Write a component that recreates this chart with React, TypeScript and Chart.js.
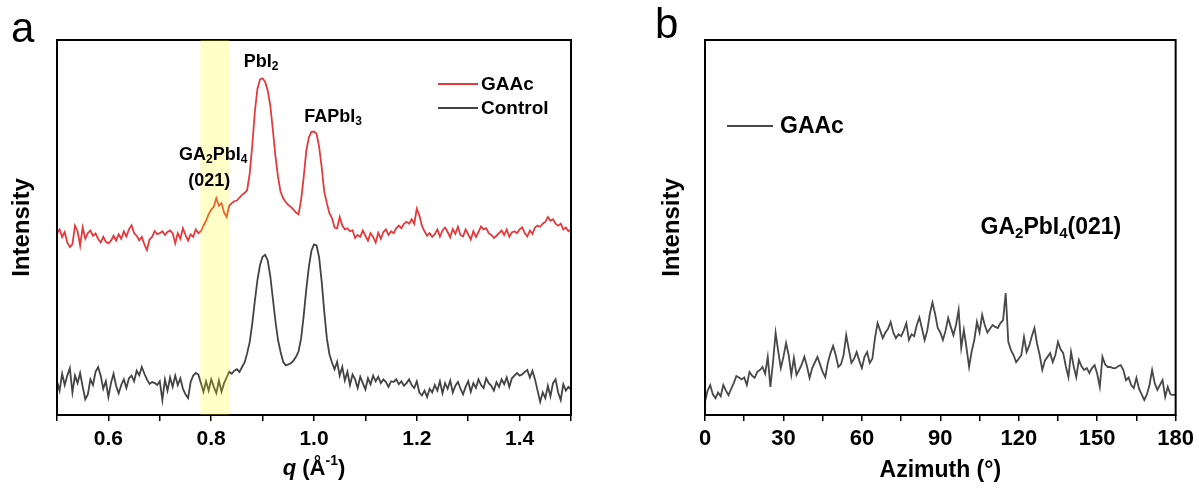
import React, { useEffect, useRef } from "react";
import { Chart, registerables } from "chart.js";

Chart.register(...registerables);

const FONT = '"Liberation Sans", Arial, Helvetica, sans-serif';

// ---------- Panel a: q scan (q from 0.5 to 1.5, step 0.005) ----------
const Q_START = 0.5;
const Q_STEP = 0.005;

const gaacA = [
  48.5, 49.5, 47.5, 48.8, 46.0, 44.8, 45.5, 50.5, 49.0, 45.2,
  50.0, 47.0, 48.5, 49.2, 47.8, 48.4, 47.0, 46.0, 47.5, 46.2,
  45.8, 46.5, 47.8, 46.5, 48.2, 47.0, 49.0, 47.6, 49.5, 50.6,
  48.5, 47.8, 46.6, 47.5, 45.5, 44.0, 46.8, 47.5, 49.0, 48.2,
  48.5, 49.0, 48.0, 48.8, 49.2, 48.5, 45.8, 48.5, 47.0, 49.8,
  48.0, 46.5, 48.2, 47.5, 49.5, 48.5, 49.0, 50.5, 51.8, 53.5,
  54.8, 55.5, 57.8, 55.8, 56.5, 54.0, 52.8, 55.8, 56.5, 57.0,
  57.2, 58.0, 58.7, 59.2, 60.0, 64.5, 72.0, 81.0, 87.0, 89.5,
  89.8, 88.8, 86.5, 82.5, 76.0, 69.0, 63.5, 59.5, 57.8, 56.8,
  56.0, 55.5, 54.8, 54.0, 53.5, 57.5, 63.5, 70.5, 74.0, 75.5,
  75.6, 75.0, 71.5, 66.0, 59.5, 56.5, 53.8, 52.5, 50.0, 49.8,
  52.8, 50.5, 49.5, 49.8, 49.0, 49.3, 47.2, 48.0, 47.5, 49.2,
  47.8, 46.5, 48.5, 47.5, 46.0, 48.6, 47.0, 48.8, 49.5, 48.0,
  49.0, 48.5, 49.8, 50.5, 49.8, 51.0, 51.5, 51.0, 52.2, 51.0,
  55.0, 53.2, 50.5, 49.0, 47.8, 48.5, 47.5, 48.2, 49.5, 47.6,
  49.2, 50.0, 48.8, 47.4, 49.6, 48.3, 50.2, 48.0, 47.6, 49.5,
  48.2, 46.8, 49.0, 47.5, 48.8, 50.3, 49.5, 49.8, 48.5, 48.0,
  47.2, 47.8, 48.5, 49.2, 48.0, 49.5, 47.5, 48.7, 49.0, 48.5,
  49.5, 50.0, 48.5, 47.6, 49.2, 48.3, 50.0, 50.5, 50.2, 51.0,
  51.5, 52.8, 51.8, 52.2, 51.0, 50.5, 51.0, 49.5, 50.0, 49.0,
  49.5,
];

const controlA = [
  9.0, 6.5, 11.0, 8.0, 10.5, 12.5, 6.0, 10.5, 8.5, 11.2,
  7.5, 4.2, 5.5, 9.5, 8.0, 11.5, 12.8, 10.5, 7.0, 9.0,
  4.8, 8.5, 11.0, 7.8, 5.8, 8.0, 9.5, 7.2, 9.8, 10.5,
  9.0, 11.8, 10.6, 12.8, 11.0, 9.5, 8.3, 8.8, 8.5, 8.0,
  9.0, 4.0, 9.5, 6.5, 10.0, 7.5, 10.5, 8.0, 9.8, 7.0,
  5.5, 4.5, 8.8, 10.5, 11.2, 10.8, 8.5, 6.2, 9.0, 6.5,
  9.5, 7.5, 5.8, 9.2, 6.2, 8.5, 10.0, 11.5, 11.0, 11.8,
  12.2, 11.5, 12.8, 14.0, 16.5, 19.5, 24.5, 30.5, 36.0, 40.0,
  42.2, 42.7, 41.2, 37.0, 31.0, 25.0, 20.0, 16.8, 14.2, 13.2,
  13.5, 13.8, 14.5, 15.5, 17.0, 20.5, 26.5, 33.5, 39.5, 43.8,
  45.5, 45.2, 42.0, 35.5, 27.5, 20.5, 16.2, 14.0, 12.2, 14.2,
  10.5, 12.8, 9.2, 11.5, 8.0, 10.8, 9.5, 7.2, 10.2, 8.5,
  6.8, 9.8, 8.2, 10.5, 9.0, 10.2, 8.5, 9.5, 8.8, 7.5,
  9.0, 8.8, 9.5, 8.2, 9.0, 7.8, 8.5, 9.5, 8.0, 7.2,
  9.0, 6.0, 5.2, 6.5, 4.8, 7.0, 6.0, 8.0, 6.5, 9.0,
  5.8, 8.5, 7.0, 9.2, 6.0, 7.8, 8.8, 7.0, 5.5, 7.5,
  9.0, 6.2, 8.5, 7.2, 9.5, 8.0, 7.2, 9.8, 8.5, 7.8,
  6.5, 8.8, 7.5, 9.5, 8.2, 10.0, 7.5, 9.8, 10.5, 11.2,
  10.5, 10.8, 11.5, 12.0, 10.0, 11.8, 9.5, 6.5, 3.5, 6.0,
  4.5, 7.8, 5.0, 8.5, 9.5, 6.0, 4.0, 8.2, 6.5, 7.5,
  6.8,
];

const Q_MIN = 0.5;
const Q_MAX = 1.5;
const Q_TICK_STEP = 0.1;
const HIGHLIGHT_BAND = [0.779, 0.835];

// ---------- Panel b: azimuth scan (0..180 deg, step 1) ----------
const AZ_START = 0;
const AZ_STEP = 1;
const gaacB = [
  3.5, 6.5, 8.0, 5.5, 4.5, 6.0, 5.0, 8.0, 6.5, 5.3,
  7.0, 8.5, 10.4, 10.0, 9.5, 10.0, 8.0, 11.5, 10.5, 9.9,
  11.5, 12.0, 12.8, 11.0, 15.5, 7.5, 14.0, 21.9, 17.0, 12.5,
  15.5, 19.2, 16.0, 10.7, 15.2, 10.7, 12.0, 13.5, 15.5, 13.0,
  9.9, 12.5, 14.0, 15.5, 13.5, 11.5, 10.1, 14.0, 16.5, 18.4,
  16.0, 12.8, 13.5, 16.0, 21.3, 17.5, 13.9, 15.0, 16.8, 14.5,
  12.5, 15.5, 16.8, 13.9, 15.0, 20.5, 24.5, 22.5, 20.5, 22.0,
  23.0, 24.8, 22.0, 20.5, 21.5, 21.0, 22.5, 24.5, 20.0, 21.5,
  21.0, 24.0, 26.0, 23.0, 20.0, 22.5, 27.0, 30.0, 27.0, 23.2,
  22.0, 20.0, 22.5, 25.9, 23.5, 21.3, 24.0, 28.0, 17.9, 22.7,
  18.0, 12.8, 17.0, 20.0, 24.8, 22.0, 26.7, 24.0, 22.0, 23.0,
  24.0, 23.5, 23.2, 24.5, 25.3, 32.5, 19.5, 17.3, 16.0, 14.1,
  15.0, 16.0, 20.8, 16.8, 18.5, 21.0, 23.2, 19.0, 16.0, 12.0,
  14.5, 15.5, 16.5, 14.1, 16.0, 19.5, 17.5, 16.5, 13.0, 10.1,
  16.8, 13.0, 10.1, 14.7, 13.0, 12.0, 12.5, 11.2, 12.5, 13.3,
  11.0, 7.5, 15.5, 13.5, 12.8, 12.8, 12.5, 12.5, 13.0, 13.3,
  12.0, 9.3, 10.0, 8.0, 7.2, 9.9, 7.0, 5.5, 4.0, 5.5,
  8.0, 12.0, 8.5, 6.7, 8.0, 9.3, 4.8, 7.5, 5.5, 5.3,
  5.5,
];
const AZ_MIN = 0;
const AZ_MAX = 180;
const AZ_TICK_STEP = 15;

const Y_MIN = 0;
const Y_MAX = 100;

const RED = "#E43A3C";
const DARK = "#434343";
const DARK_B = "#484848";

type Seg = { t: string; size: number; italic?: boolean; dy?: number; weight?: string };

function drawRich(ctx: CanvasRenderingContext2D, segs: Seg[], x: number, y: number, align: "center" | "left") {
  ctx.save();
  ctx.textBaseline = "middle";
  ctx.textAlign = "left";
  ctx.fillStyle = "#000";
  const fontOf = (s: Seg) => `${s.italic ? "italic " : ""}${s.weight || "bold"} ${s.size}px ${FONT}`;
  let total = 0;
  const widths = segs.map((s) => {
    ctx.font = fontOf(s);
    const w = ctx.measureText(s.t).width;
    total += w;
    return w;
  });
  let cx = align === "center" ? x - total / 2 : x;
  segs.forEach((s, i) => {
    ctx.font = fontOf(s);
    ctx.fillText(s.t, cx, y + (s.dy || 0));
    cx += widths[i];
  });
  ctx.restore();
}

const boxPlugin = {
  id: "boxFrame",
  afterDatasetsDraw(chart: any) {
    const { ctx, chartArea } = chart;
    ctx.save();
    ctx.strokeStyle = "#000";
    ctx.lineWidth = 2;
    ctx.strokeRect(chartArea.left, chartArea.top, chartArea.right - chartArea.left, chartArea.bottom - chartArea.top);
    ctx.restore();
  },
};

const panelAPlugin = {
  id: "panelA",
  afterDatasetsDraw(chart: any) {
    const { ctx, chartArea, scales } = chart;
    const x = scales.x;
    const y = scales.y;
    // highlight band over the traces
    const x0 = x.getPixelForValue(HIGHLIGHT_BAND[0]);
    const x1 = x.getPixelForValue(HIGHLIGHT_BAND[1]);
    ctx.save();
    ctx.fillStyle = "rgba(255, 255, 0, 0.22)";
    ctx.fillRect(x0, chartArea.top, x1 - x0, chartArea.bottom - chartArea.top);
    ctx.restore();

    // peak annotations
    drawRich(ctx, [{ t: "PbI", size: 18 }, { t: "2", size: 12, dy: 5 }], x.getPixelForValue(0.897), y.getPixelForValue(94.1), "center");
    drawRich(ctx, [{ t: "FAPbI", size: 18 }, { t: "3", size: 12, dy: 5 }], x.getPixelForValue(1.037), y.getPixelForValue(79.5), "center");
    drawRich(
      ctx,
      [{ t: "GA", size: 18 }, { t: "2", size: 12, dy: 5 }, { t: "PbI", size: 18 }, { t: "4", size: 12, dy: 5 }],
      x.getPixelForValue(0.804),
      y.getPixelForValue(69.3),
      "center"
    );
    drawRich(ctx, [{ t: "(021)", size: 18 }], x.getPixelForValue(0.796), y.getPixelForValue(62.4), "center");

    // legend
    const ds = chart.data.datasets;
    const lx0 = chartArea.right - 133;
    const lx1 = chartArea.right - 93;
    const rows = [chartArea.top + 44, chartArea.top + 68];
    ds.forEach((d: any, i: number) => {
      ctx.save();
      ctx.strokeStyle = d.borderColor;
      ctx.lineWidth = 2;
      ctx.beginPath();
      ctx.moveTo(lx0, rows[i]);
      ctx.lineTo(lx1, rows[i]);
      ctx.stroke();
      ctx.restore();
      drawRich(ctx, [{ t: d.label, size: 19 }], lx1 + 3, rows[i] + 1, "left");
    });

    // x-axis title
    drawRich(
      ctx,
      [
        { t: "q", size: 22, italic: true },
        { t: " (Å", size: 22 },
        { t: "-1", size: 14, dy: -8 },
        { t: ")", size: 22 },
      ],
      (chartArea.left + chartArea.right) / 2,
      469,
      "center"
    );

    // panel letter
    ctx.save();
    ctx.fillStyle = "#000";
    ctx.font = `42px ${FONT}`;
    ctx.textBaseline = "alphabetic";
    ctx.fillText("a", 11, 42);
    ctx.restore();
  },
};

const panelBPlugin = {
  id: "panelB",
  afterDatasetsDraw(chart: any) {
    const { ctx, chartArea, scales } = chart;
    const x = scales.x;
    const y = scales.y;
    drawRich(
      ctx,
      [
        { t: "GA", size: 23 },
        { t: "2", size: 15, dy: 6 },
        { t: "PbI", size: 23 },
        { t: "4", size: 15, dy: 6 },
        { t: "(021)", size: 23 },
      ],
      x.getPixelForValue(132.3),
      y.getPixelForValue(49.9),
      "center"
    );
    const d = chart.data.datasets[0];
    const ly = chartArea.top + 86;
    ctx.save();
    ctx.strokeStyle = d.borderColor;
    ctx.lineWidth = 2;
    ctx.beginPath();
    ctx.moveTo(chartArea.left + 22, ly);
    ctx.lineTo(chartArea.left + 68, ly);
    ctx.stroke();
    ctx.restore();
    drawRich(ctx, [{ t: d.label, size: 23 }], chartArea.left + 75, ly + 1, "left");

    ctx.save();
    ctx.fillStyle = "#000";
    ctx.font = `42px ${FONT}`;
    ctx.textBaseline = "alphabetic";
    ctx.fillText("b", 55, 38);
    ctx.restore();
  },
};

function toPoints(start: number, step: number, vals: number[]) {
  return vals.map((v, i) => ({ x: +(start + i * step).toFixed(4), y: v }));
}

export default function App() {
  const refA = useRef<HTMLCanvasElement | null>(null);
  const refB = useRef<HTMLCanvasElement | null>(null);

  useEffect(() => {
    const tickFontA = { family: FONT, size: 21, weight: "bold" as const };
    const chartA = new Chart(refA.current as HTMLCanvasElement, {
      type: "line",
      data: {
        datasets: [
          { label: "GAAc", data: toPoints(Q_START, Q_STEP, gaacA), borderColor: RED, borderWidth: 1.8, pointRadius: 0, tension: 0 },
          { label: "Control", data: toPoints(Q_START, Q_STEP, controlA), borderColor: DARK, borderWidth: 1.8, pointRadius: 0, tension: 0 },
        ],
      },
      options: {
        animation: false,
        responsive: false,
        events: [],
        layout: { padding: { top: 40, right: 29, left: 0, bottom: 0 } },
        plugins: { legend: { display: false }, tooltip: { enabled: false } },
        scales: {
          x: {
            type: "linear",
            min: Q_MIN,
            max: Q_MAX,
            ticks: {
              stepSize: Q_TICK_STEP,
              autoSkip: false,
              maxRotation: 0,
              padding: 6,
              color: "#000",
              font: tickFontA,
              callback: (v: any) => (Math.round(Number(v) * 10) % 2 === 0 ? Number(v).toFixed(1) : ""),
            },
            grid: { display: true, drawOnChartArea: false, drawTicks: true, tickLength: 6, color: "#000", lineWidth: 1.5 },
            border: { display: false },
            afterFit: (s: any) => {
              s.height = 77;
            },
          },
          y: {
            min: Y_MIN,
            max: Y_MAX,
            ticks: { display: false },
            grid: { display: false },
            border: { display: false },
            title: { display: true, text: "Intensity", color: "#000", font: { family: FONT, size: 24, weight: "bold" }, padding: { top: 8, bottom: 0 } },
            afterFit: (s: any) => {
              s.width = 57;
            },
          },
        },
      },
      plugins: [boxPlugin, panelAPlugin],
    } as any);

    const chartB = new Chart(refB.current as HTMLCanvasElement, {
      type: "line",
      data: {
        datasets: [{ label: "GAAc", data: toPoints(AZ_START, AZ_STEP, gaacB), borderColor: DARK_B, borderWidth: 1.8, pointRadius: 0, tension: 0 }],
      },
      options: {
        animation: false,
        responsive: false,
        events: [],
        layout: { padding: { top: 40, right: 22, left: 0, bottom: 0 } },
        plugins: { legend: { display: false }, tooltip: { enabled: false } },
        scales: {
          x: {
            type: "linear",
            min: AZ_MIN,
            max: AZ_MAX,
            ticks: {
              stepSize: AZ_TICK_STEP,
              autoSkip: false,
              maxRotation: 0,
              padding: 5,
              color: "#000",
              font: { family: FONT, size: 22, weight: "bold" },
              callback: (v: any) => (Math.round(Number(v)) % 30 === 0 ? String(Math.round(Number(v))) : ""),
            },
            grid: { display: true, drawOnChartArea: false, drawTicks: true, tickLength: 6, color: "#000", lineWidth: 1.5 },
            border: { display: false },
            title: { display: true, text: "Azimuth (°)", color: "#000", font: { family: FONT, size: 23, weight: "bold" }, padding: { top: 0, bottom: 8 } },
            afterFit: (s: any) => {
              s.height = 77;
            },
          },
          y: {
            min: Y_MIN,
            max: Y_MAX,
            ticks: { display: false },
            grid: { display: false },
            border: { display: false },
            title: { display: true, text: "Intensity", color: "#000", font: { family: FONT, size: 24, weight: "bold" }, padding: { top: 58, bottom: 0 } },
            afterFit: (s: any) => {
              s.width = 105;
            },
          },
        },
      },
      plugins: [boxPlugin, panelBPlugin],
    } as any);

    return () => {
      chartA.destroy();
      chartB.destroy();
    };
  }, []);

  return (
    <div style={{ position: "fixed", left: 0, top: 0, width: 1199, height: 492, background: "#fff" }}>
      <canvas ref={refA} width={600} height={492} style={{ position: "absolute", left: 0, top: 0, width: 600, height: 492 }} />
      <canvas ref={refB} width={599} height={492} style={{ position: "absolute", left: 600, top: 0, width: 599, height: 492 }} />
    </div>
  );
}
